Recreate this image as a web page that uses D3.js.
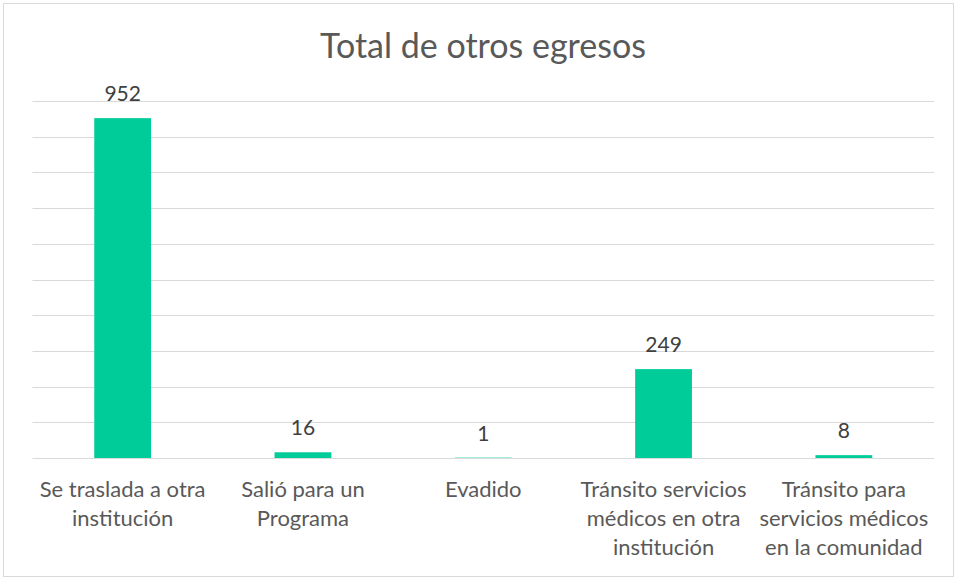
<!DOCTYPE html>
<html>
<head>
<meta charset="utf-8">
<script src="https://cdn.jsdelivr.net/npm/d3@7"></script>
<style>
  body { margin: 0; background: #fff; }
  text { font-family: Lato, "Open Sans", sans-serif; }
</style>
</head>
<body>
<div id="chart"></div>
<script>
var categories = [
  ["Se traslada a otra", "institución"],
  ["Salió para un", "Programa"],
  ["Evadido"],
  ["Tránsito servicios", "médicos en otra", "institución"],
  ["Tránsito para", "servicios médicos", "en la comunidad"]
];
var values = [952, 16, 1, 249, 8];
var yTicks = [0, 100, 200, 300, 400, 500, 600, 700, 800, 900, 1000];

var W = 963, H = 578;
var margin = {top: 101, right: 29, bottom: 120, left: 32.5},
    width = W - margin.left - margin.right,
    height = H - margin.top - margin.bottom;

var svg = d3.select('#chart').append('svg')
    .attr('width', W)
    .attr('height', H);

// outer border
svg.append('rect')
    .attr('x', 3.5).attr('y', 3.5)
    .attr('width', 950).attr('height', 573)
    .style('fill', '#fff')
    .style('stroke', '#d9d9d9');

svg.append('text')
    .attr('x', 483)
    .attr('y', 58)
    .style('text-anchor', 'middle')
    .style('font-size', '34px')
    .style('fill', '#595959')
    .text('Total de otros egresos');

var wrapper = svg.append('g')
    .attr('transform', 'translate(' + margin.left + ',' + margin.top + ')');

var idx = values.map(function(d, i) { return i; });

var xScale = d3.scaleBand().domain(idx).range([0, width]).paddingInner(0.685).paddingOuter(0.3425),
    yScale = d3.scaleLinear().domain([0, 1000]).range([height, 0]);

// gridlines
wrapper.selectAll('.grid')
    .data(yTicks)
  .enter().append('line')
    .attr('class', 'grid')
    .attr('x1', 0)
    .attr('x2', width)
    .attr('y1', function(d) { return Math.round(yScale(d)) + 0.5; })
    .attr('y2', function(d) { return Math.round(yScale(d)) + 0.5; })
    .style('stroke', '#d9d9d9')
    .style('stroke-width', 1);

wrapper.selectAll('.bar')
    .data(values)
  .enter().append('rect')
    .attr('class', 'bar')
    .attr('x', function(d, i) { return xScale(i); })
    .attr('y', function(d) { return yScale(d); })
    .attr('width', xScale.bandwidth())
    .attr('height', function(d) { return height - yScale(d); })
    .style('fill', '#00cc99');

// data labels
wrapper.selectAll('.val')
    .data(values)
  .enter().append('text')
    .attr('class', 'val')
    .attr('x', function(d, i) { return xScale(i) + xScale.bandwidth() / 2; })
    .attr('y', function(d) { return yScale(d) - 17; })
    .style('text-anchor', 'middle')
    .style('font-size', '21px')
    .style('fill', '#404040')
    .text(function(d) { return d; });

// category labels
var cat = wrapper.selectAll('.cat')
    .data(categories)
  .enter().append('text')
    .attr('class', 'cat')
    .attr('transform', function(d, i) {
      return 'translate(' + (xScale(i) + xScale.bandwidth() / 2) + ',' + (height + 39) + ')';
    })
    .style('text-anchor', 'middle')
    .style('font-size', '22px')
    .style('fill', '#595959');

cat.selectAll('tspan')
    .data(function(d) { return d; })
  .enter().append('tspan')
    .attr('x', 0)
    .attr('y', function(d, i) { return i * 29; })
    .text(function(d) { return d; });
</script>
</body>
</html>
